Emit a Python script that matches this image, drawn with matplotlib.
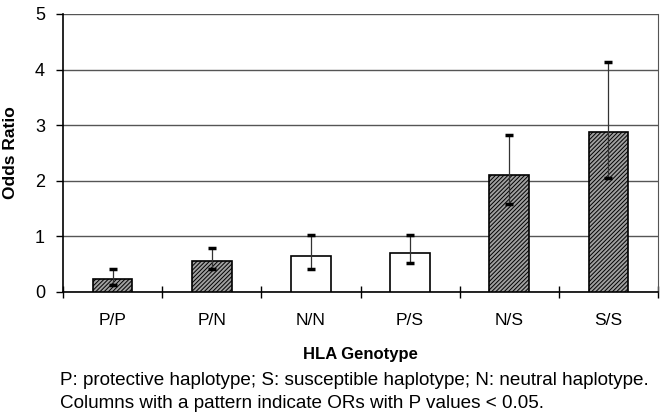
import matplotlib
matplotlib.use('Agg')
import matplotlib.pyplot as plt
import numpy as np

plt.rcParams['font.family'] = ['Liberation Sans', 'DejaVu Sans']
plt.rcParams['hatch.linewidth'] = 0.7

genotypes = ['P/P', 'P/N', 'N/N', 'P/S', 'N/S', 'S/S']
odds_ratio = [0.23, 0.56, 0.65, 0.71, 2.10, 2.88]
ci_low = [0.13, 0.41, 0.41, 0.53, 1.58, 2.05]
ci_high = [0.41, 0.79, 1.02, 1.02, 2.82, 4.14]
significant = [True, True, False, False, True, True]

fig = plt.figure(figsize=(6.67, 4.2), dpi=100)
ax = fig.add_axes([0.0945, 0.3048, 0.892, 0.662])

x = np.arange(len(genotypes))
for i in x:
    if significant[i]:
        ax.bar(x[i], odds_ratio[i], width=0.4, facecolor='#a0a0a0', edgecolor='black',
               hatch='////////', linewidth=1.2, zorder=3)
    else:
        ax.bar(x[i], odds_ratio[i], width=0.4, facecolor='white', edgecolor='black',
               linewidth=1.2, zorder=3)

ax.vlines(x, ci_low, ci_high, color='#333333', linewidth=0.9, zorder=4)
ax.plot(x, ci_high, linestyle='none', marker='_', markersize=6, markeredgewidth=2.5,
        color='black', zorder=5)
ax.plot(x, ci_low, linestyle='none', marker='_', markersize=6, markeredgewidth=2.5,
        color='black', zorder=5)

ax.set_xlim(-0.5, len(genotypes) - 0.5)
ax.set_ylim(0, 5)
ax.set_yticks(range(6))
ax.yaxis.grid(True, color='#555555', linewidth=1.0, zorder=0)
ax.set_axisbelow(True)

ax.set_xticks(x)
ax.set_xticklabels(genotypes, fontsize=12.5)
ax.set_xticks(np.arange(-0.5, len(genotypes)), minor=True)
ax.tick_params(axis='x', which='major', length=0, pad=15)
ax.tick_params(axis='x', which='minor', length=8, direction='inout', width=1)
ax.tick_params(axis='y', labelsize=13, length=5, direction='out', width=1, pad=8)

ax.spines['top'].set_visible(False)
ax.spines['right'].set_color('#555555')
ax.spines['left'].set_linewidth(1.2)
ax.spines['bottom'].set_linewidth(1.2)

ax.set_ylabel('Odds Ratio', fontsize=12.5, fontweight='bold', labelpad=12)
fig.text(0.54, 0.155, 'HLA Genotype', fontsize=12, fontweight='bold', ha='center', va='center')
fig.text(0.09, 0.095, 'P: protective haplotype; S: susceptible haplotype; N: neutral haplotype.',
         fontsize=13.6, ha='left', va='center')
fig.text(0.09, 0.04, 'Columns with a pattern indicate ORs with P values < 0.05.',
         fontsize=13.6, ha='left', va='center')

fig.savefig('out.png', dpi=100)
